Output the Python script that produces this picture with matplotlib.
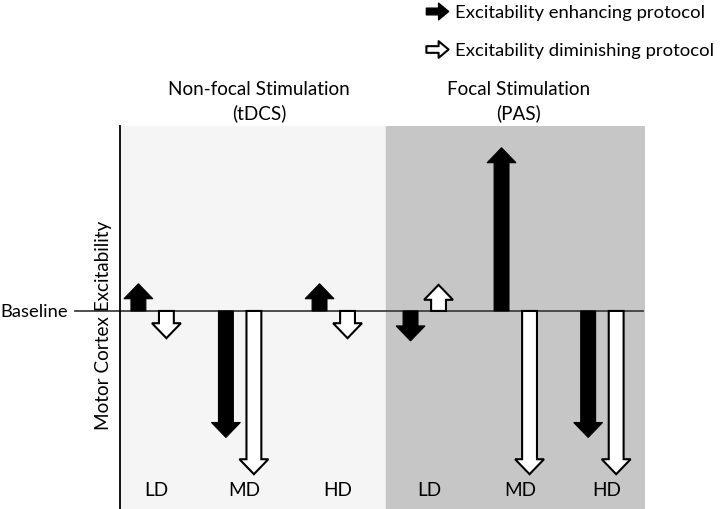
import matplotlib
matplotlib.use('Agg')
import matplotlib.pyplot as plt
from matplotlib.patches import FancyArrow
from matplotlib.path import Path
from matplotlib.lines import Line2D

plt.rcParams['font.family'] = ['Lato', 'DejaVu Sans']

# 데이터: 기준선 대비 흥분성 변화 (단위 임의)
doses = ['LD', 'MD', 'HD', 'LD', 'MD', 'HD']
enhancing = [1.0, -4.65, 1.0, -1.1, 6.0, -4.65]
diminishing = [-1.0, -6.0, -1.0, 0.96, -6.0, -6.0]
panel_titles = ['Non-focal Stimulation\n(tDCS)', 'Focal Stimulation\n(PAS)']
legend_labels = ['Excitability enhancing protocol', 'Excitability diminishing protocol']

# 배치
group_x = [0.37, 1.37, 2.44, 3.48, 4.52, 5.51]
pair_offset = 0.16
FS = 13.6

fig = plt.figure(figsize=(7.2, 5.1), dpi=100)
ax = fig.add_axes([0.1667, 0.0, 0.7292, 0.751])
ax.set_xlim(0, 6)
ax.set_ylim(-7.28, 6.8)

# 배경 패널
ax.axvspan(0, 3.04, color='#f5f5f5', zorder=0)
ax.axvspan(3.04, 6, color='#c6c6c6', zorder=0)

# 기준선
ax.plot([-0.51, 5.98], [0, 0], color='#404040', lw=1.3, clip_on=False, zorder=2)
ax.text(-0.6, 0, 'Baseline', ha='right', va='center', fontsize=13.2)


def draw_arrow(x, val, white):
    arr = FancyArrow(x, 0, 0, val, width=0.17, head_width=0.33, head_length=0.55,
                     length_includes_head=True,
                     facecolor='white' if white else 'black', edgecolor='black',
                     lw=1.5 if white else 0.8, zorder=3)
    ax.add_patch(arr)


for gx, e, d, lab in zip(group_x, enhancing, diminishing, doses):
    draw_arrow(gx - pair_offset, e, white=False)
    draw_arrow(gx + pair_offset, d, white=True)
    ax.text(gx + 0.05, -6.55, lab, ha='center', va='center', fontsize=FS)

# 패널 제목
trans = ax.get_xaxis_transform()
for tx, title in zip([1.59, 4.55], panel_titles):
    ax.text(tx, 1.013, title, transform=trans, ha='center', va='bottom',
            fontsize=FS, linespacing=1.38)

# 축
for s in ['top', 'right', 'bottom']:
    ax.spines[s].set_visible(False)
ax.spines['left'].set_linewidth(1.3)
ax.set_xticks([])
ax.set_yticks([])
ax.text(-0.032, 0.483, 'Motor Cortex Excitability', transform=ax.transAxes,
        rotation=90, ha='center', va='center', fontsize=FS)

# 범례
arrow_path = Path([(-1, -0.3), (0.1, -0.3), (0.1, -0.75), (1, 0), (0.1, 0.75),
                   (0.1, 0.3), (-1, 0.3), (-1, -0.3)],
                  [Path.MOVETO] + [Path.LINETO] * 6 + [Path.CLOSEPOLY])
handles = [
    Line2D([], [], ls='none', marker=arrow_path, markersize=16,
           markerfacecolor='black', markeredgecolor='black', markeredgewidth=1),
    Line2D([], [], ls='none', marker=arrow_path, markersize=16,
           markerfacecolor='white', markeredgecolor='black', markeredgewidth=1.5),
]
fig.legend(handles, legend_labels, loc='upper left',
           bbox_to_anchor=(425 / 720, 1 - 5 / 510), frameon=False, fontsize=13.3,
           borderpad=0, borderaxespad=0, handlelength=1.3, handletextpad=0.35,
           labelspacing=1.2)

fig.savefig('out.png', dpi=100)
